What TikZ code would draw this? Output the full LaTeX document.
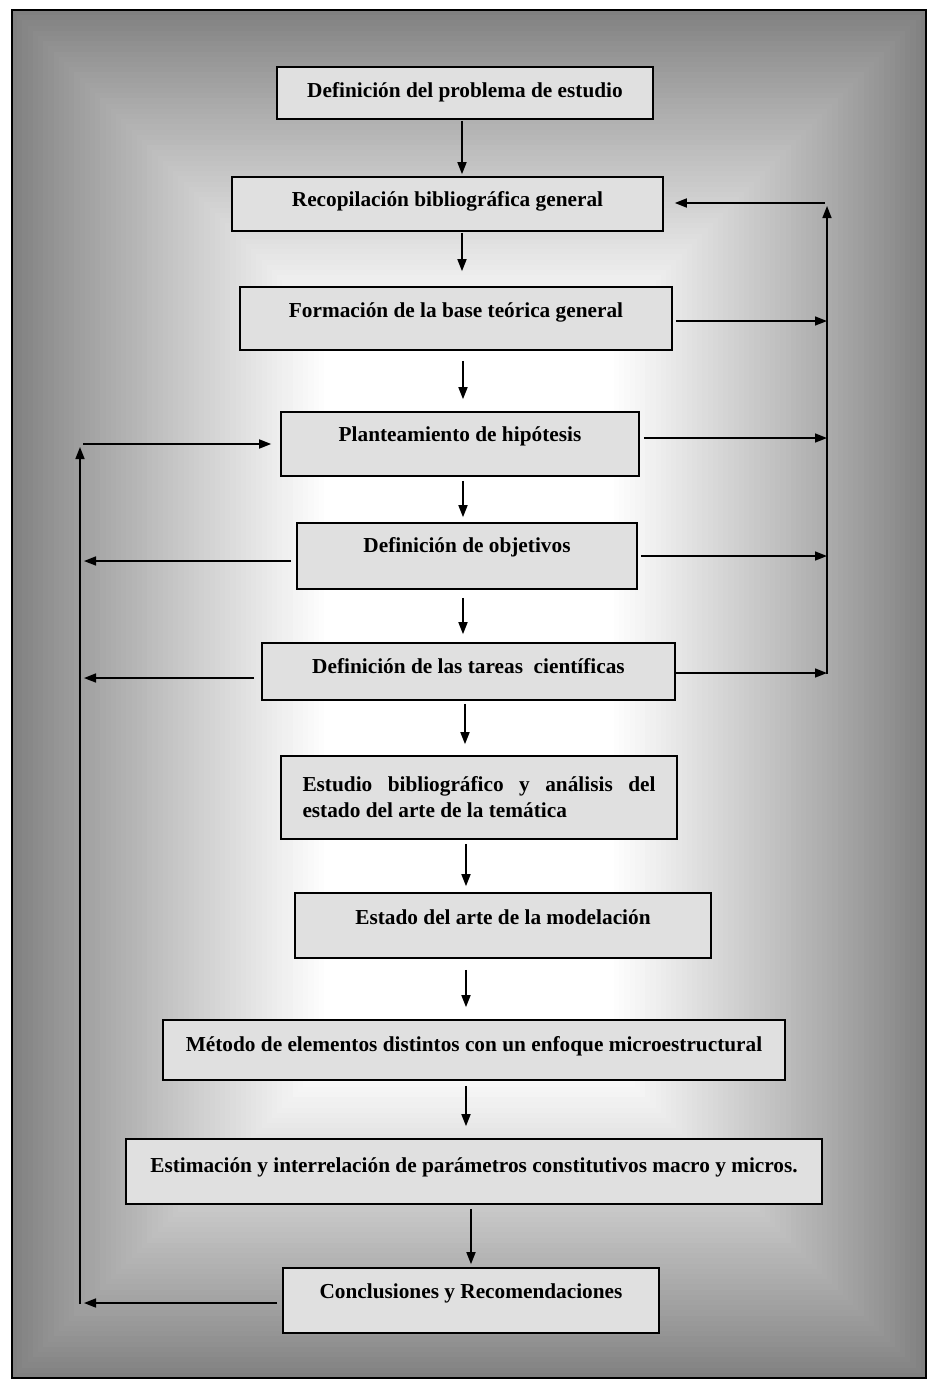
\documentclass[tikz,border=0pt]{standalone}
\usepackage{fontspec}
\setmainfont{Liberation Serif}
\usetikzlibrary{arrows.meta,calc}
\definecolor{edgegray}{gray}{0.5}
\definecolor{boxfill}{gray}{0.88}
\begin{document}
\begin{tikzpicture}[x=1pt,y=-1pt,
  stepbox/.style={draw=black,line width=1.6pt,fill=boxfill,inner sep=0pt,
    font=\fontsize{21.3}{25}\selectfont\bfseries,text height=14.5pt,text depth=#1},
  stepbox/.default=5pt,
  arr/.style={line width=1.6pt,-{Triangle[length=12pt,width=9pt]}},
]
\useasboundingbox (0,0) rectangle (929,1382);
\fill[white] (0,0) rectangle (929,1382);
% background: rectangular gradient, grey at the frame, white in the centre
\foreach \s in {0,...,60}{
  \pgfmathsetmacro\ins{\s*5.2}
  \pgfmathsetmacro\pc{100*(\s/60)^0.9}
  \fill[white!\pc!edgegray] ({12+\ins},{10+\ins}) rectangle ({926-\ins},{1378-\ins});
}
\draw[line width=1.8pt] (12,10) rectangle (926,1378);

% boxes
\node[stepbox,minimum width=376pt,minimum height=52pt] (b1) at (465,93) {Definición del problema de estudio};
\node[stepbox=9pt,minimum width=431pt,minimum height=54pt] (b2) at (447.5,204) {Recopilación bibliográfica general};
\node[stepbox=17pt,minimum width=432pt,minimum height=63pt] (b3) at (456,318.5) {Formación de la base teórica general};
\node[stepbox=19pt,minimum width=358pt,minimum height=64pt] (b4) at (460,444) {Planteamiento de hipótesis};
\node[stepbox=21pt,minimum width=340pt,minimum height=66pt] (b5) at (467,556) {Definición de objetivos};
\node[stepbox=11pt,minimum width=413pt,minimum height=57pt] (b6) at (468.5,671.5) {Definición de las tareas~ científicas};
\node[draw=black,line width=1.6pt,fill=boxfill,inner xsep=21.5pt,inner ysep=0pt,
  minimum width=396pt,minimum height=83pt,text width=353pt,align=justify,
  font=\fontsize{21.3}{26}\selectfont\bfseries] (b7) at (479,797.5)
  {Estudio bibliográfico y análisis del\linebreak estado del arte de la temática};
\node[stepbox=17pt,minimum width=416pt,minimum height=65pt] (b8) at (503,925.5) {Estado del arte de la modelación};
\node[stepbox=11pt,minimum width=622pt,minimum height=60pt] (b9) at (474,1050) {Método de elementos distintos con un enfoque microestructural};
\node[stepbox=13pt,minimum width=696pt,minimum height=65pt] (b10) at (474,1171.5) {Estimación y interrelación de parámetros constitutivos macro y micros.};
\node[stepbox=19pt,minimum width=376pt,minimum height=65pt] (b11) at (471,1300.5) {Conclusiones y Recomendaciones};

% columns of the main chain
\coordinate (c1) at (462,0);
\coordinate (c2) at (463,0);
\coordinate (c3) at (465,0);
\coordinate (c4) at (466,0);
\coordinate (c5) at (471,0);
\draw[arr,shorten <=1pt,shorten >=2pt] (c1 |- b1.south) -- (c1 |- b2.north);
\draw[arr,shorten <=1pt,shorten >=15pt] (c1 |- b2.south) -- (c1 |- b3.north);
\draw[arr,shorten <=10pt,shorten >=12pt] (c2 |- b3.south) -- (c2 |- b4.north);
\draw[arr,shorten <=4pt,shorten >=5pt] (c2 |- b4.south) -- (c2 |- b5.north);
\draw[arr,shorten <=8pt,shorten >=8pt] (c2 |- b5.south) -- (c2 |- b6.north);
\draw[arr,shorten <=3pt,shorten >=11pt] (c3 |- b6.south) -- (c3 |- b7.north);
\draw[arr,shorten <=4pt,shorten >=6pt] (c4 |- b7.south) -- (c4 |- b8.north);
\draw[arr,shorten <=11pt,shorten >=12pt] (c4 |- b8.south) -- (c4 |- b9.north);
\draw[arr,shorten <=5pt,shorten >=12pt] (c4 |- b9.south) -- (c4 |- b10.north);
\draw[arr,shorten <=4pt,shorten >=3pt] (c5 |- b10.south) -- (c5 |- b11.north);

% right feedback line
\coordinate (R) at (827,0);
\coordinate (Rbot) at (827,674);
\coordinate (Rtop) at (827,206);
\coordinate (Rjoin) at (825,203);
\draw[arr,shorten <=3pt] ([yshift=-2.5pt]b3.east) -- ([yshift=-2.5pt]b3.east -| R);
\draw[arr,shorten <=4pt] ([yshift=6pt]b4.east) -- ([yshift=6pt]b4.east -| R);
\draw[arr,shorten <=3pt] (b5.east) -- (b5.east -| R);
\draw[arr] ([yshift=-1.5pt]b6.east) -- ([yshift=-1.5pt]b6.east -| R);
\draw[arr] (Rbot) -- (Rtop);
\draw[arr,shorten >=11pt] (Rjoin) -- (b2.east |- Rjoin);

% left feedback line
\coordinate (L) at (84,0);
\coordinate (Lbot) at (80,1304);
\coordinate (Ltop) at (80,447);
\coordinate (Ljoin) at (83,444);
\draw[arr,shorten <=5pt] ([yshift=-5pt]b5.west) -- ([yshift=-5pt]b5.west -| L);
\draw[arr,shorten <=7pt] ([yshift=-6.5pt]b6.west) -- ([yshift=-6.5pt]b6.west -| L);
\draw[arr,shorten <=5pt] ([yshift=-2.5pt]b11.west) -- ([yshift=-2.5pt]b11.west -| L);
\draw[arr] (Lbot) -- (Ltop);
\draw[arr,shorten >=9pt] (Ljoin) -- (b4.west |- Ljoin);
\end{tikzpicture}
\end{document}
